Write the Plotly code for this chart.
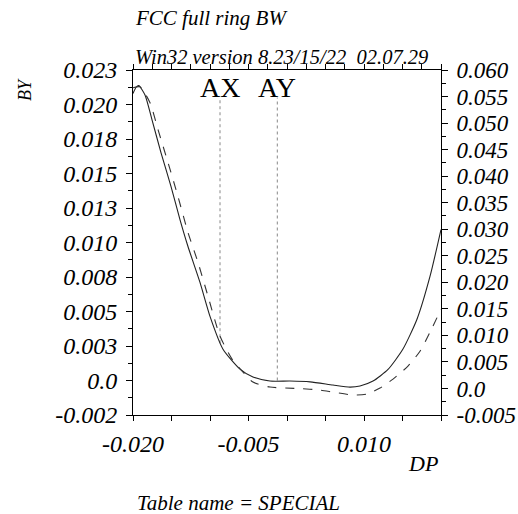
import plotly.graph_objects as go

# ---- data ----
dp_solid = [-0.0200, -0.01960, -0.01925, -0.01844, -0.01753, -0.01636, -0.01506, -0.01390,
            -0.01286, -0.01130, -0.01000, -0.00831, -0.00610, -0.00442, -0.00221, 0.00039,
            0.00300, 0.00597, 0.00818, 0.00948, 0.01117, 0.01312, 0.01506, 0.01688,
            0.01857, 0.02000]
by_solid = [0.02080, 0.02125, 0.02137, 0.02069, 0.01889, 0.01650, 0.01405, 0.01166,
            0.00971, 0.00711, 0.00465, 0.00227, 0.00082, 0.00025, -0.00004, -0.00004,
            -0.00010, -0.00033, -0.00048, -0.00040, -0.00004, 0.00080, 0.00228, 0.00444,
            0.00754, 0.01094]

dp_dash = [-0.0200, -0.01909, -0.01779, -0.01675, -0.01545, -0.01416, -0.01286, -0.01156,
           -0.01026, -0.00870, -0.00714, -0.00571, -0.00442, -0.00221, 0.00169, 0.00429,
           0.00597, 0.00857, 0.01039, 0.01208, 0.01377, 0.01571, 0.01727, 0.01857, 0.02000]
bx_dash = [0.05665, 0.05684, 0.05383, 0.04876, 0.04256, 0.03617, 0.02940, 0.02376,
           0.01737, 0.00985, 0.00553, 0.00308, 0.00120, 0.00026, -0.00002, -0.00030,
           -0.00068, -0.00124, -0.00105, 0.00008, 0.00177, 0.00421, 0.00700, 0.01060, 0.01493]

mark_names = ["AX", "AY"]
mark_dp = [-0.0087, -0.00126]
mark_bottom = [0.0027, 0.0]
mark_top = 0.0205

left_vals = [0.0225, 0.020, 0.0175, 0.015, 0.0125, 0.010, 0.0075, 0.005, 0.0025, 0.0, -0.0025]
left_text = ["0.023", "0.020", "0.018", "0.015", "0.013", "0.010", "0.008", "0.005", "0.003", "0.0", "-0.002"]
left_minor = [-0.00125 + 0.0025 * i for i in range(10)]

right_vals = [0.060, 0.055, 0.050, 0.045, 0.040, 0.035, 0.030, 0.025, 0.020, 0.015, 0.010, 0.005, 0.0, -0.005]
right_text = ["0.060", "0.055", "0.050", "0.045", "0.040", "0.035", "0.030", "0.025", "0.020",
              "0.015", "0.010", "0.005", "0.0", "-0.005"]
right_minor = [-0.0025 + 0.005 * i for i in range(13)]

bottom_vals = [-0.020, -0.015, -0.010, -0.005, 0.0, 0.005, 0.010, 0.015, 0.020]
bottom_text = ["-0.020", "", "", "-0.005", "", "", "0.010", "", ""]
top_vals = [-0.020 + 0.0025 * i for i in range(17)]

FONT = "Liberation Serif"
ifont = dict(family=FONT, size=24, color="black", style="italic")
rfont = dict(family=FONT, size=23, color="black", style="italic")

fig = go.Figure()

for i, name in enumerate(mark_names):
    fig.add_trace(go.Scatter(x=[mark_dp[i], mark_dp[i]], y=[mark_bottom[i], mark_top],
                             mode="lines", line=dict(color="#888888", width=1, dash="dot"),
                             xaxis="x", yaxis="y", showlegend=False, hoverinfo="skip"))

fig.add_trace(go.Scatter(x=dp_solid, y=by_solid, mode="lines",
                         line=dict(color="#222222", width=1.1, shape="spline", smoothing=0.6),
                         xaxis="x", yaxis="y", showlegend=False))
fig.add_trace(go.Scatter(x=dp_dash, y=bx_dash, mode="lines",
                         line=dict(color="#333333", width=1.1, dash="dash", shape="spline", smoothing=0.6),
                         xaxis="x", yaxis="y2", showlegend=False))

common = dict(showgrid=False, zeroline=False, showline=True, linecolor="black", linewidth=1,
              ticks="outside", tickcolor="black", tickwidth=1, automargin=False)

fig.update_layout(
    width=518, height=514,
    margin=dict(l=133, r=77, t=70, b=99),
    paper_bgcolor="white", plot_bgcolor="white",
    xaxis=dict(range=[-0.020, 0.020], tickmode="array", tickvals=bottom_vals, ticktext=bottom_text,
               ticklen=5, tickfont=ifont, anchor="y", ticklabelstandoff=2, **common),
    xaxis2=dict(range=[-0.020, 0.020], tickmode="array", tickvals=top_vals, ticktext=[""] * len(top_vals),
                ticklen=5, overlaying="x", side="top", anchor="y", **common),
    yaxis=dict(range=[-0.0025, 0.0225], tickmode="array", tickvals=left_vals, ticktext=left_text,
               ticklen=6, tickfont=ifont, anchor="x", ticklabelstandoff=4,
               minor=dict(tickvals=left_minor, ticklen=4, ticks="outside", tickcolor="black"), **common),
    yaxis2=dict(range=[-0.005, 0.060], tickmode="array", tickvals=right_vals, ticktext=right_text,
                ticklen=6, tickfont=rfont, overlaying="y", side="right", anchor="x", ticklabelstandoff=4,
                minor=dict(tickvals=right_minor, ticklen=4, ticks="outside", tickcolor="black"), **common),
)

# dummy trace to activate top axis
fig.add_trace(go.Scatter(x=[None], y=[None], xaxis="x2", yaxis="y", showlegend=False))

def px2paper(px, py):
    return (px - 133) / 308.0, (415 - py) / 345.0

anns = []
x, y = px2paper(133, 18)
anns.append(dict(text="FCC full ring BW", x=x, y=y, xanchor="left", yanchor="middle",
                 font=dict(family=FONT, size=21, color="black", style="italic")))
x, y = px2paper(133, 57)
anns.append(dict(text="Win32 version 8.23/15/22  02.07.29", x=x, y=y, xanchor="left", yanchor="middle",
                 font=dict(family=FONT, size=20.5, color="black", style="italic")))
x, y = px2paper(25, 90)
anns.append(dict(text="BY", x=x, y=y, xanchor="center", yanchor="middle", textangle=-90,
                 font=dict(family=FONT, size=18, color="black", style="italic")))
x, y = px2paper(423, 463)
anns.append(dict(text="DP", x=x, y=y, xanchor="center", yanchor="middle",
                 font=dict(family=FONT, size=22, color="black", style="italic")))
x, y = px2paper(238, 503)
anns.append(dict(text="Table name = SPECIAL", x=x, y=y, xanchor="center", yanchor="middle",
                 font=dict(family=FONT, size=21, color="black", style="italic")))
for a in anns:
    a.update(xref="paper", yref="paper", showarrow=False)

_, ylab = px2paper(0, 87)
for i, name in enumerate(mark_names):
    anns.append(dict(text=name, x=mark_dp[i], y=ylab, xref="x", yref="paper", showarrow=False,
                     xanchor="center", yanchor="middle",
                     font=dict(family=FONT, size=28, color="black")))

fig.update_layout(annotations=anns)
fig.write_html("out.html")
